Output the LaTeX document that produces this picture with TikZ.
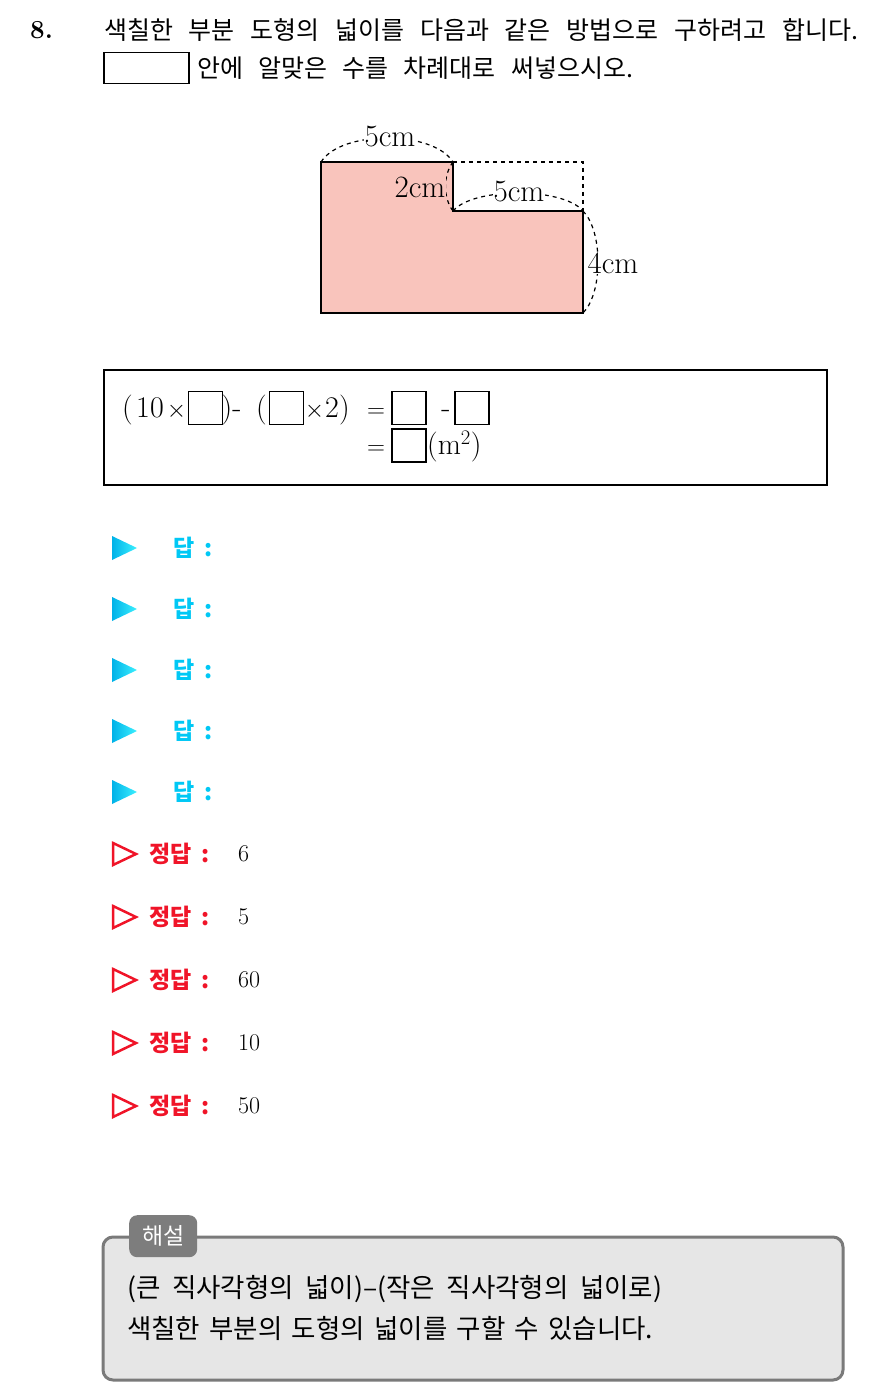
\documentclass[tikz,border=0pt]{standalone}
\usepackage{fontspec}
\usepackage{amsmath}
\newfontfamily\kr{Noto Sans CJK KR}
\newcommand\krhead{\kr\fontsize{25}{29}\selectfont}
\newcommand\krexpl{\kr\fontsize{26.5}{30}\selectfont}
\newcommand\krans{\kr\bfseries\fontsize{23}{26}\selectfont\spaceskip 10pt\relax}
\newcommand\fitline[2]{\hbox to #1{\spaceskip 5pt plus 40pt\relax #2}}
\definecolor{pinkfill}{RGB}{249,196,188}
\definecolor{cyanD}{RGB}{0,178,232}
\definecolor{cyanL}{RGB}{60,240,255}
\definecolor{cyanans}{RGB}{0,200,245}
\definecolor{redans}{RGB}{240,20,40}
\definecolor{boxgray}{RGB}{122,122,122}
\definecolor{tabgray}{RGB}{125,125,125}
\definecolor{boxfill}{RGB}{230,230,230}
\tikzset{
  krt/.style={font=\krhead, inner sep=0pt},
  krx/.style={font=\krexpl, inner sep=0pt},
  cmlab/.style={font=\fontsize{31}{33}\selectfont, inner sep=1pt},
  eq/.style={font=\fontsize{30}{34}\selectfont, inner sep=0pt, anchor=base},
  sq/.style={draw, line width=1.3pt, minimum width=34pt, minimum height=33pt, inner sep=0pt},
  dsh/.style={dashed, dash pattern=on 4pt off 4pt, line width=1.2pt},
  ansc/.style={font=\krans, text=cyanans, inner sep=0pt, anchor=west},
  ansr/.style={font=\krans, text=redans, inner sep=0pt, anchor=west},
  numt/.style={font=\fontsize{24}{28}\selectfont, inner sep=0pt, anchor=west},
}
\begin{document}
\begin{tikzpicture}[x=1pt,y=-1pt]
\useasboundingbox (0,0) rectangle (884,1383);
\fill[white] (0,0) rectangle (884,1383);

% header
\node[font=\bfseries\fontsize{26}{30}\selectfont, inner sep=0pt, anchor=west] (qnum) at (30,30) {8.};
\node[krt, anchor=west] (q1) at (104,30) {\fitline{754pt}{색칠한 부분 도형의 넓이를 다음과 같은 방법으로 구하려고 합니다.}};
\node[draw, line width=1.5pt, minimum width=85pt, minimum height=31pt, anchor=north west, inner sep=0pt] (blank) at (103,52) {};
\node[krt, anchor=west] (q2) at (197,68) {\fitline{436pt}{안에 알맞은 수를 차례대로 써넣으시오.}};

% figure
\coordinate (A) at (321,162);
\coordinate (B) at (453,162);
\coordinate (C) at (453,211);
\coordinate (D) at (583,211);
\coordinate (E) at (583,313);
\coordinate (F) at (321,313);
\coordinate (G) at (583,162);
\fill[pinkfill] (A)--(B)--(C)--(D)--(E)--(F)--cycle;
\draw[dsh] (B)--(G)--(D);
\draw[dsh] (A) .. controls (341,130) and (433,130) .. (B);
\draw[dsh] (B) .. controls (443,175) and (443,198) .. (C);
\draw[dsh] (C) .. controls (473,187) and (563,187) .. (D);
\draw[dsh] (D) .. controls (603,231) and (603,293) .. (E);
\draw[line width=2pt, line join=miter] (A)--(B)--(C)--(D)--(E)--(F)--cycle;
\node[cmlab, fill=white] (l1) at (390,137) {5cm};
\node[cmlab, fill=pinkfill] (l2) at (420,187) {2cm};
\node[cmlab, fill=white] (l3) at (519,192) {5cm};
\node[cmlab, fill=white] (l4) at (613,263) {4cm};

% equation box
\node[draw, line width=1.8pt, minimum width=723pt, minimum height=115pt, anchor=north west, inner sep=0pt] (eqbox) at (103,369) {};
\node[sq] (b1) at (205.5,408) {};
\node[sq] (b2) at (286.5,408) {};
\node[sq] (b3) at (409,408) {};
\node[sq] (b4) at (472,408) {};
\node[sq] (b5) at (409,445.5) {};
\node[eq] (p1) at (127.5,417) {(};
\node[eq] (t10) at (150,417) {10};
\node[eq] (x1) at (176.5,417) {$\times$};
\node[eq] (p2) at (227,417) {)};
\node[eq] (m1) at (237,417) {-};
\node[eq] (p3) at (261.5,417) {(};
\node[eq] (x2) at (314.5,417) {$\times$};
\node[eq] (t2) at (332,417) {2};
\node[eq] (p4) at (344.5,417) {)};
\node[eq] (e1) at (376,417) {$=$};
\node[eq] (m2) at (446,417) {-};
\node[eq] (e2) at (376,454) {$=$};
\node[eq, anchor=base west] (unit) at (427,454) {(m$^2$)};

% answer rows
\foreach \yy [count=\i] in {548,609,670,731,792}{
  \shade[left color=cyanD, right color=cyanL] (112,\yy-12) -- (137,\yy) -- (112,\yy+12) -- cycle;
  \node[ansc] (da\i) at (173,\yy) {답 :};
}
\foreach \yy/\vv [count=\i] in {854/6,917/5,980/60,1043/10,1106/50}{
  \draw[redans, line width=2.5pt, line join=miter] (113,\yy-11) -- (136,\yy) -- (113,\yy+11) -- cycle;
  \node[ansr] (jd\i) at (149,\yy) {정답 :};
  \node[numt] (nv\i) at (238,\yy) {\vv};
}

% explanation
\draw[line width=3pt, draw=boxgray, fill=boxfill, rounded corners=10pt] (103,1237) rectangle (843,1380);
\node[fill=tabgray, rounded corners=8pt, minimum width=68pt, minimum height=42pt, anchor=north west, inner sep=0pt,
      font=\kr\fontsize{23}{26}\selectfont, text=white] (tab) at (129,1215) {해설};
\node[krx, anchor=west] (ex1) at (127,1289) {\fitline{535pt}{(큰 직사각형의 넓이)–(작은 직사각형의 넓이로)}};
\node[krx, anchor=west] (ex2) at (127,1328) {\fitline{526pt}{색칠한 부분의 도형의 넓이를 구할 수 있습니다.}};
\end{tikzpicture}
\end{document}
